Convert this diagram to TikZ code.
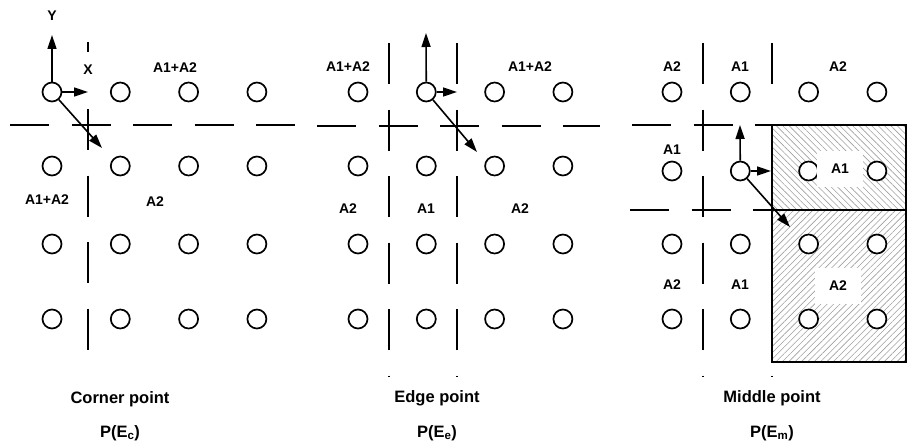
\documentclass[tikz,border=0pt]{standalone}
\usepackage{fontspec}
\setmainfont{Liberation Sans}
\usetikzlibrary{arrows.meta,patterns.meta,positioning}

\tikzset{
  site/.style={circle, draw, fill=white, line width=1.7pt, minimum width=18pt, minimum height=19pt, inner sep=0pt},
  lbl/.style={font=\fontsize{14}{14}\selectfont\bfseries, inner sep=1pt},
  boxlbl/.style={lbl, fill=white, minimum width=46pt, minimum height=36pt},
  caption/.style={font=\fontsize{16.5}{16.5}\selectfont\bfseries, anchor=base},
  hcut/.style={line width=1.7pt, dash pattern=on 39pt off 22.5pt},
  vcut/.style={line width=1.7pt, dash pattern=on 41pt off 25.5pt},
  vec/.style={line width=1.6pt, -{Triangle[length=14pt,width=9pt]}},
  region/.style={line width=2pt, pattern color=gray!75},
}

\begin{document}
\begin{tikzpicture}[x=1pt,y=-1pt]

      \useasboundingbox (0,0) rectangle (907,444);

      % Regions of the middle point
      \draw[region, pattern={Lines[angle=-45,distance=4.5pt,line width=0.6pt]}] (772,125) rectangle (906,210);
      \draw[region, pattern={Lines[angle=45,distance=4.5pt,line width=0.6pt]}] (772,210) rectangle (906,362);

      % Cut lines
      \draw[hcut] (10,125) -- (295,125);
      \draw[vcut] (88,42) -- (88,52);
      \draw[vcut] (88,109) -- (88,353);
      \draw[hcut] (317,126) -- (600,126);
      \draw[vcut] (389,43) -- (389,377);
      \draw[vcut] (457,43) -- (457,377);
      \draw[hcut] (632,125) -- (772,125);
      \draw[hcut] (630,210) -- (772,210);
      \draw[vcut] (703,43) -- (703,377);
      \draw[vcut] (772,43) -- (772,85);
      \draw[vcut] (772,375.5) -- (772,377);

      % Define nodes
      \foreach \p/\ox/\ry in {a/52/166, b/358/166, c/672/171} {
        \foreach \i in {1,...,4} {
          \foreach \j/\y in {1/92, 2/\ry, 3/244, 4/319} {
            \node[site] (\p-\i-\j) at ({\ox+68.3*(\i-1)},\y) {};
          }
        }
      }

      \node[lbl]    (a-y)     at (52,16)   {Y};
      \node[lbl]    (a-x)     at (88,70)   {X};
      \node[lbl]    (a-ne)    at (175,68)  {A1+A2};
      \node[lbl]    (a-sw)    at (47,200)  {A1+A2};
      \node[lbl]    (a-se)    at (155,202) {A2};

      \node[lbl]    (b-nw)    at (348,67)  {A1+A2};
      \node[lbl]    (b-ne)    at (530,67)  {A1+A2};
      \node[lbl]    (b-sw)    at (348,209) {A2};
      \node[lbl]    (b-s)     at (426,209) {A1};
      \node[lbl]    (b-se)    at (520,209) {A2};

      \node[lbl]    (c-nw)    at (672,67)  {A2};
      \node[lbl]    (c-n)     at (740,67)  {A1};
      \node[lbl]    (c-ne)    at (838,67)  {A2};
      \node[lbl]    (c-w)     at (672,150) {A1};
      \node[boxlbl] (c-e)     at (840,169) {A1};
      \node[lbl]    (c-sw)    at (672,285) {A2};
      \node[lbl]    (c-s)     at (740,285) {A1};
      \node[boxlbl] (c-se)    at (838,286) {A2};

      \node[caption] (cap-a)  at (120,403) {Corner point};
      \node[caption] (pe-a)   at (120,437) {P(E\textsubscript{c})};
      \node[caption] (cap-b)  at (437,402) {Edge point};
      \node[caption] (pe-b)   at (437,437) {P(E\textsubscript{e})};
      \node[caption] (cap-c)  at (772,402) {Middle point};
      \node[caption] (pe-c)   at (772,437) {P(E\textsubscript{m})};

      \coordinate (a-ytip) at (52,35);
      \coordinate (a-xtip) at (88,92);
      \coordinate (a-dtip) at (102,148);
      \coordinate (b-ytip) at (426,33);
      \coordinate (b-xtip) at (457,92);
      \coordinate (b-dtip) at (477,152);
      \coordinate (c-ytip) at (740,125);
      \coordinate (c-xtip) at (771,171);
      \coordinate (c-dtip) at (790,227);

      % Connect the nodes
      \draw[vec] (a-1-1) -- (a-ytip);
      \draw[vec] (a-1-1) -- (a-xtip);
      \draw[vec] (a-1-1) -- (a-dtip);
      \draw[vec] (b-2-1) -- (b-ytip);
      \draw[vec] (b-2-1) -- (b-xtip);
      \draw[vec] (b-2-1) -- (b-dtip);
      \draw[vec] (c-2-2) -- (c-ytip);
      \draw[vec] (c-2-2) -- (c-xtip);
      \draw[vec] (c-2-2) -- (c-dtip);

\end{tikzpicture}
\end{document}
